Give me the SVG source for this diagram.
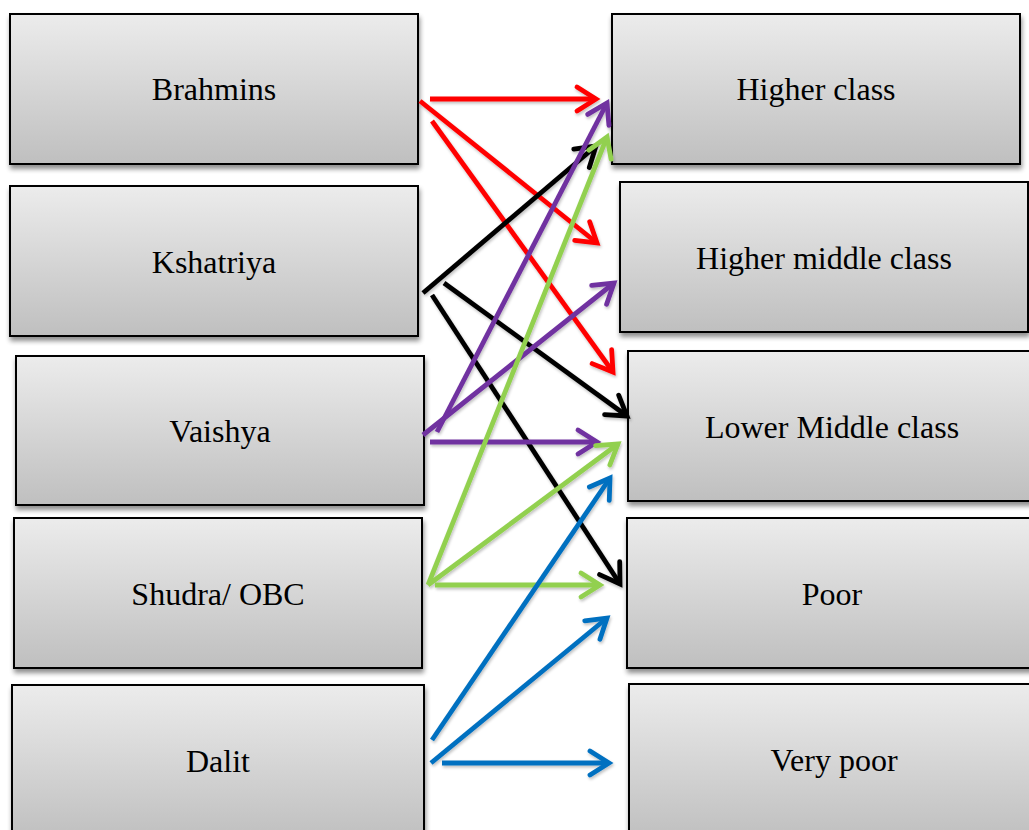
<svg xmlns="http://www.w3.org/2000/svg" width="1029" height="830" viewBox="0 0 1029 830">
<style>
.box{fill:url(#g);stroke:#000;stroke-width:2;filter:url(#sh)}
.lbl{font-family:"Liberation Serif","Times New Roman",serif;font-size:32px;fill:#000;text-anchor:middle}
.c{fill:none;stroke-width:4.8;stroke-linecap:butt}
.r{stroke:#FF0000;marker-end:url(#mr)}
.k{stroke:#000;marker-end:url(#mk)}
.p{stroke:#7030A0;marker-end:url(#mp)}
.gr{stroke:#92D050;marker-end:url(#mg)}
.b{stroke:#0070C0;marker-end:url(#mb)}
</style>
<defs>
<linearGradient id="g" x1="0" y1="0" x2="0" y2="1">
<stop offset="0" stop-color="#ECECEC"/>
<stop offset="1" stop-color="#BFBFBF"/>
</linearGradient>
<filter id="sh" x="-5%" y="-5%" width="115%" height="120%">
<feGaussianBlur in="SourceAlpha" stdDeviation="2.5"/>
<feOffset dx="1" dy="4" result="o"/>
<feComponentTransfer><feFuncA type="linear" slope="0.45"/></feComponentTransfer>
<feMerge><feMergeNode/><feMergeNode in="SourceGraphic"/></feMerge>
</filter>
<filter id="ls" x="-10%" y="-10%" width="130%" height="130%">
<feGaussianBlur in="SourceAlpha" stdDeviation="1.5"/>
<feOffset dx="1" dy="2"/>
<feComponentTransfer><feFuncA type="linear" slope="0.25"/></feComponentTransfer>
<feMerge><feMergeNode/><feMergeNode in="SourceGraphic"/></feMerge>
</filter>
<marker id="mr" markerUnits="userSpaceOnUse" markerWidth="40" markerHeight="40" viewBox="-25 -20 30 40" refX="0" refY="0" orient="auto"><path d="M-19,-12 L0,0 L-19,12" fill="none" stroke="#FF0000" stroke-width="4.8" stroke-linecap="round"/></marker>
<marker id="mk" markerUnits="userSpaceOnUse" markerWidth="40" markerHeight="40" viewBox="-25 -20 30 40" refX="0" refY="0" orient="auto"><path d="M-19,-12 L0,0 L-19,12" fill="none" stroke="#000" stroke-width="4.8" stroke-linecap="round"/></marker>
<marker id="mp" markerUnits="userSpaceOnUse" markerWidth="40" markerHeight="40" viewBox="-25 -20 30 40" refX="0" refY="0" orient="auto"><path d="M-19,-12 L0,0 L-19,12" fill="none" stroke="#7030A0" stroke-width="4.8" stroke-linecap="round"/></marker>
<marker id="mg" markerUnits="userSpaceOnUse" markerWidth="40" markerHeight="40" viewBox="-25 -20 30 40" refX="0" refY="0" orient="auto"><path d="M-19,-12 L0,0 L-19,12" fill="none" stroke="#92D050" stroke-width="4.8" stroke-linecap="round"/></marker>
<marker id="mb" markerUnits="userSpaceOnUse" markerWidth="40" markerHeight="40" viewBox="-25 -20 30 40" refX="0" refY="0" orient="auto"><path d="M-19,-12 L0,0 L-19,12" fill="none" stroke="#0070C0" stroke-width="4.8" stroke-linecap="round"/></marker>
</defs>
<rect width="1029" height="830" fill="#fff"/>
<g id="brahmins"><rect class="box" x="10" y="14" width="408" height="150"/><text class="lbl" x="214" y="100">Brahmins</text></g>
<g id="kshatriya"><rect class="box" x="10" y="186" width="408" height="150"/><text class="lbl" x="214" y="273">Kshatriya</text></g>
<g id="vaishya"><rect class="box" x="16" y="356" width="408" height="149"/><text class="lbl" x="220" y="442">Vaishya</text></g>
<g id="shudra"><rect class="box" x="14" y="518" width="408" height="150"/><text class="lbl" x="218" y="605">Shudra/ OBC</text></g>
<g id="dalit"><rect class="box" x="12" y="685" width="412" height="155"/><text class="lbl" x="218" y="772">Dalit</text></g>
<g id="higher-class"><rect class="box" x="612" y="14" width="408" height="150"/><text class="lbl" x="816" y="100">Higher class</text></g>
<g id="higher-middle-class"><rect class="box" x="620" y="182" width="408" height="150"/><text class="lbl" x="824" y="269">Higher middle class</text></g>
<g id="lower-middle-class"><rect class="box" x="628" y="351" width="408" height="150"/><text class="lbl" x="832" y="438">Lower Middle class</text></g>
<g id="poor"><rect class="box" x="627" y="518" width="408" height="150"/><text class="lbl" x="832" y="605">Poor</text></g>
<g id="very-poor"><rect class="box" x="629" y="684" width="408" height="156"/><text class="lbl" x="834" y="771">Very poor</text></g>
<g id="connectors" filter="url(#ls)">
<line class="c r" x1="430" y1="99" x2="596" y2="99"/>
<line class="c r" x1="420" y1="101" x2="597" y2="243"/>
<line class="c r" x1="432" y1="121" x2="613" y2="372"/>
<line class="c k" x1="423" y1="293" x2="596" y2="146"/>
<line class="c k" x1="444" y1="283" x2="627" y2="416"/>
<line class="c k" x1="432" y1="295" x2="620" y2="584"/>
<line class="c p" x1="437" y1="432" x2="607" y2="103"/>
<line class="c p" x1="423" y1="435" x2="614" y2="283"/>
<line class="c p" x1="430" y1="442" x2="597" y2="442"/>
<line class="c gr" x1="428" y1="585" x2="607" y2="137"/>
<line class="c gr" x1="428" y1="585" x2="618" y2="444"/>
<line class="c gr" x1="435" y1="585" x2="600" y2="585"/>
<line class="c b" x1="432" y1="740" x2="610" y2="478"/>
<line class="c b" x1="431" y1="763" x2="607" y2="618"/>
<line class="c b" x1="442" y1="763" x2="609" y2="763"/>
</g>
</svg>
